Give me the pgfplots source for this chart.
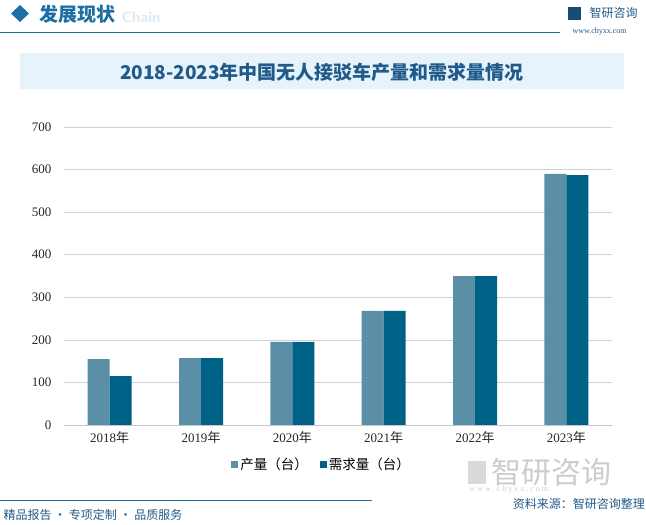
\documentclass[border=0pt]{standalone}
\usepackage{pgfplots}
\pgfplotsset{compat=1.18}
\usepackage{fontspec}
\setmainfont{Liberation Serif}
\newfontfamily\cjk{Noto Sans CJK SC}
\definecolor{prod}{HTML}{5B8FA8}
\definecolor{dem}{HTML}{006186}
\definecolor{band}{HTML}{E6F3FB}
\definecolor{ttl}{HTML}{1F5A8A}
\definecolor{hdr}{HTML}{1C6EA4}
\begin{document}
\begin{tikzpicture}
\begin{axis}[
  name=ax,
  scale only axis, width=548pt, height=298pt,
  ybar=0pt, bar width=22pt,
  xmin=-0.5, xmax=5.5, ymin=0, ymax=700,
  xtick={0,...,5},
  xticklabels={2018{\cjk 年},2019{\cjk 年},2020{\cjk 年},2021{\cjk 年},2022{\cjk 年},2023{\cjk 年}},
  ytick={0,100,...,700},
  /pgf/number format/assume math mode=true,
  ymajorgrids, grid style={gray!35, line width=0.6pt},
  axis x line*=bottom, axis y line*=left,
  x axis line style={gray!45, line width=0.6pt, -},
  y axis line style={draw=none},
  major tick length=0pt,
  tick label style={font=\fontsize{13}{13}\selectfont, text=black!85},
  yticklabel style={xshift=-9pt},
  xticklabel style={yshift=-3pt},
  legend style={at={(0.47,-0.134)}, anchor=center, legend columns=2, draw=none,
    font=\cjk\fontsize{13.5}{13.5}\selectfont, /tikz/every even column/.append style={column sep=10pt}},
  legend image code/.code={\fill[#1] (0pt,-3.5pt) rectangle (7pt,3.5pt);},
]
\addplot[fill=prod, draw=none] coordinates {(0,155) (1,157) (2,195) (3,268) (4,350) (5,590)};
\addplot[fill=dem, draw=none] coordinates {(0,115) (1,157) (2,195) (3,268) (4,350) (5,587)};
\legend{产量（台）,需求量（台）}
\end{axis}
\begin{scope}[shift={(ax.south west)}, xshift=-64pt, yshift=-100pt, x=1pt, y=1pt]
\path[use as bounding box] (0,0) rectangle (646,525);
% header
\fill[hdr] (20,525-5) -- (29,525-13.5) -- (20,525-22) -- (11,525-13.5) -- cycle;
\node[anchor=west,text=hdr!15,font=\sffamily\bfseries\fontsize{15}{15}\selectfont] at (118,525-17) {Chain};
\node[anchor=west,text=hdr,font=\cjk\bfseries\fontsize{19}{19}\selectfont] at (36,525-14) {发展现状};
\draw[hdr,line width=0.8pt] (0,525-32) -- (560,525-32);
\fill[hdr!70!black] (568,525-7) rectangle (581,525-20);
\node[anchor=west,text=ttl,font=\cjk\fontsize{12}{12}\selectfont] at (586,525-13) {智研咨询};
\node[anchor=west,text=ttl,font=\fontsize{8}{8}\selectfont] at (569,525-32) {www.chyxx.com};
% title band
\fill[band] (20,525-53) rectangle (624,525-89);
\node[text=ttl,font=\cjk\bfseries\fontsize{19}{19}\selectfont] at (322,525-72) {2018-2023年中国无人接驳车产量和需求量情况};
% footer
\fill[gray!30] (468,525-461) rectangle (486,525-484);
\node[anchor=west,text=gray!40,font=\cjk\fontsize{30}{30}\selectfont] at (488,525-472) {智研咨询};
\node[anchor=west,text=gray!40,font=\fontsize{8}{8}\selectfont] at (466,525-490) {w\ w\ w\ .\ c\ h\ y\ x\ x\ .\ c\ o\ m};
\draw[hdr,line width=0.8pt] (0,525-500) -- (372,525-500);
\node[anchor=east,text=ttl,font=\cjk\fontsize{12}{12}\selectfont,inner sep=1pt] at (646,525-504) {资料来源：智研咨询整理};
\node[anchor=west,text=ttl,font=\cjk\fontsize{12}{12}\selectfont] at (0,525-515) {精品报告 · 专项定制 · 品质服务};
\end{scope}
\end{tikzpicture}
\end{document}
